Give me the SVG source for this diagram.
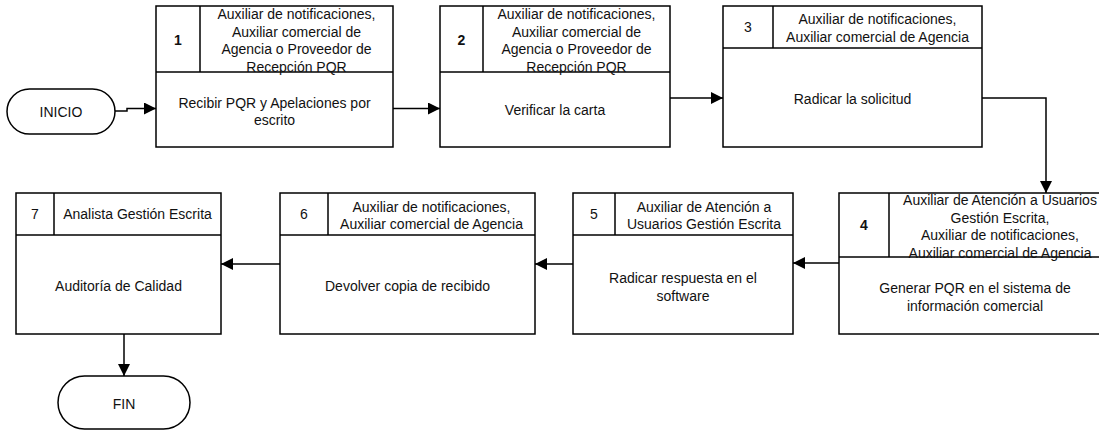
<svg xmlns="http://www.w3.org/2000/svg" width="1099" height="430" viewBox="0 0 1099 430">
<style>
rect{fill:#fff;stroke:#000;stroke-width:1.5}
line.d{stroke:#000;stroke-width:1.5}
text{font-family:"Liberation Sans",Arial,sans-serif;font-size:14px;fill:#111;text-anchor:middle}
text.b{font-weight:bold}
.c path{fill:none;stroke:#000;stroke-width:1.5}
</style>
<defs>
<marker id="ah" markerUnits="userSpaceOnUse" markerWidth="12" markerHeight="12" refX="12" refY="6" orient="auto">
<path d="M0,0 L12,6 L0,12 z" fill="#000"/>
</marker>
</defs>
<g id="inicio"><rect x="7" y="89" width="108" height="45" rx="22.5"/><text x="61" y="117">INICIO</text></g>
<g id="fin"><rect x="58" y="376" width="132" height="53" rx="26.5"/><text x="124" y="409">FIN</text></g>
<g id="n1">
<rect x="156" y="6" width="237" height="141"/>
<line class="d" x1="156" y1="72" x2="393" y2="72"/><line class="d" x1="200" y1="6" x2="200" y2="72"/>
<text class="b" x="178" y="45">1</text>
<text x="296.5" y="19">Auxiliar de notificaciones,</text>
<text x="296.5" y="36.5">Auxiliar comercial de</text>
<text x="296.5" y="54">Agencia o Proveedor de</text>
<text x="296.5" y="71.5">Recepción PQR</text>
<text x="274.5" y="107.5">Recibir PQR y Apelaciones por</text>
<text x="274.5" y="125">escrito</text>
</g>
<g id="n2">
<rect x="440" y="6" width="230" height="141"/>
<line class="d" x1="440" y1="72" x2="670" y2="72"/><line class="d" x1="483" y1="6" x2="483" y2="72"/>
<text class="b" x="461.5" y="45">2</text>
<text x="576.5" y="19">Auxiliar de notificaciones,</text>
<text x="576.5" y="36.5">Auxiliar comercial de</text>
<text x="576.5" y="54">Agencia o Proveedor de</text>
<text x="576.5" y="71.5">Recepción PQR</text>
<text x="555" y="115">Verificar la carta</text>
</g>
<g id="n3">
<rect x="723" y="6" width="259" height="141"/>
<line class="d" x1="723" y1="48" x2="982" y2="48"/><line class="d" x1="773" y1="6" x2="773" y2="48"/>
<text x="748" y="32">3</text>
<text x="877.5" y="24">Auxiliar de notificaciones,</text>
<text x="877.5" y="41.5">Auxiliar comercial de Agencia</text>
<text x="852.5" y="104">Radicar la solicitud</text>
</g>
<g id="n4">
<rect x="839" y="193" width="272" height="141"/>
<line class="d" x1="839" y1="257" x2="1111" y2="257"/><line class="d" x1="889" y1="193" x2="889" y2="257"/>
<text class="b" x="864" y="230">4</text>
<text x="1000" y="205">Auxiliar de Atención a Usuarios</text>
<text x="1000" y="222.5">Gestión Escrita,</text>
<text x="1000" y="240">Auxiliar de notificaciones,</text>
<text x="1000" y="257.5">Auxiliar comercial de Agencia</text>
<text x="975" y="293">Generar PQR en el sistema de</text>
<text x="975" y="310.5">información comercial</text>
</g>
<g id="n5">
<rect x="573" y="193" width="220" height="141"/>
<line class="d" x1="573" y1="235" x2="793" y2="235"/><line class="d" x1="615" y1="193" x2="615" y2="235"/>
<text x="594" y="219">5</text>
<text x="704" y="211.5">Auxiliar de Atención a</text>
<text x="704" y="229">Usuarios Gestión Escrita</text>
<text x="683" y="283">Radicar respuesta en el</text>
<text x="683" y="300.5">software</text>
</g>
<g id="n6">
<rect x="280" y="193" width="255" height="141"/>
<line class="d" x1="280" y1="235" x2="535" y2="235"/><line class="d" x1="328" y1="193" x2="328" y2="235"/>
<text x="304" y="219">6</text>
<text x="431.5" y="211.5">Auxiliar de notificaciones,</text>
<text x="431.5" y="229">Auxiliar comercial de Agencia</text>
<text x="407.5" y="291">Devolver copia de recibido</text>
</g>
<g id="n7">
<rect x="16" y="193" width="205" height="141"/>
<line class="d" x1="16" y1="235" x2="221" y2="235"/><line class="d" x1="54" y1="193" x2="54" y2="235"/>
<text x="35" y="219">7</text>
<text x="137.5" y="219">Analista Gestión Escrita</text>
<text x="118.5" y="291">Auditoría de Calidad</text>
</g>
<g id="connectors" class="c">
<path d="M115,111 H127 V108.5 H156" marker-end="url(#ah)"/>
<path d="M393,108.5 H440" marker-end="url(#ah)"/>
<path d="M670,98 H723" marker-end="url(#ah)"/>
<path d="M982,98 H1046 V193" marker-end="url(#ah)"/>
<path d="M839,263 H793" marker-end="url(#ah)"/>
<path d="M573,264 H535" marker-end="url(#ah)"/>
<path d="M280,264 H221" marker-end="url(#ah)"/>
<path d="M124,334 V376" marker-end="url(#ah)"/>
</g>
</svg>
